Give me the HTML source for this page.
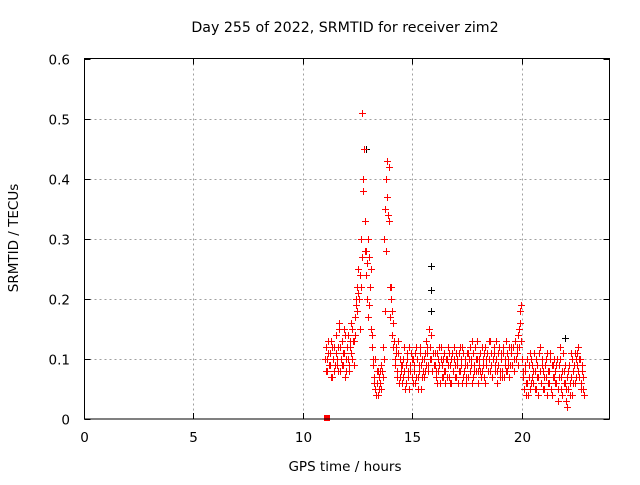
<!DOCTYPE html>
<html><head><meta charset="utf-8"><style>
body{margin:0;background:#fff}
svg text{font-family:"DejaVu Sans","Liberation Sans",sans-serif;font-size:13.5px;fill:#000}
</style></head><body>
<svg id="chart" width="640" height="480" xmlns="http://www.w3.org/2000/svg">
<text x="345" y="32" text-anchor="middle" style="font-size:14.2px">Day 255 of 2022, SRMTID for receiver zim2</text>
<text x="345" y="471" text-anchor="middle">GPS time / hours</text>
<text transform="translate(18,238) rotate(-90)" text-anchor="middle">SRMTID / TECUs</text>
<g id="grid"></g><g id="ticks"></g><g id="marks"></g>
<rect x="84.5" y="58.5" width="525" height="360.5" fill="none" stroke="#000" stroke-width="1"/>
</svg>
<script>
const xTicks=[0,5,10,15,20];
const yTicks=[0,0.1,0.2,0.3,0.4,0.5,0.6];
const yTickLabels=["0","0.1","0.2","0.3","0.4","0.5","0.6"];
const redStart=11.0, redStep=0.05;
const redA=[.10,.12,.08,.11,.09,.13,.07,.10,.12,.09,
.14,.10,.08,.16,.12,.09,.11,.15,.07,.10,
.12,.14,.09,.13,.11,.15,.13,.17,.19,.22,
.25,.20,.24,.30,.51,.40,.33,.28,.26,.30,
.27,.22,.15,.12,.09,.06,.05,.08,.04,.07,
.06,.09,.08,.12,.30,.35,.40,.43,.42,.22,
.20,.18,.16,.13,.10,.12,.08,.11,.07,.09,
.06,.10,.08,.05,.09,.11,.07,.12,.08,.10,
.06,.09,.11,.07,.10,.05,.08,.12,.09,.07,
.10,.08,.13,.11,.09,.15,.12,.10,.08,.11,
.09,.07,.11,.08,.12,.06,.10,.09,.07,.11,
.08,.10,.12,.07,.09,.06,.11,.08,.10,.09,
.07,.10,.08,.12,.09,.06,.11,.08,.10,.07,
.09,.11,.08,.10,.13,.07,.09,.12,.08,.10,
.06,.09,.11,.08,.10,.07,.12,.09,.11,.08,
.10,.13,.09,.07,.11,.08,.10,.06,.09,.12,
.08,.10,.07,.11,.09,.13,.08,.10,.12,.09,
.11,.09,.12,.10,.13,.11,.14,.12,.16,.19,
.10,.07,.05,.08,.04,.06,.09,.05,.10,.07,
.06,.11,.08,.05,.09,.07,.12,.06,.10,.08,
.05,.09,.07,.11,.06,.08,.10,.04,.09,.07,
.08,.06,.10,.05,.09,.12,.07,.04,.08,.06,
.03,.07,.05,.09,.06,.11,.04,.08,.06,.10,
.09,.12,.07,.10,.06,.08,.05];
const redBStart=11.025;
const redB=[.08,.10,.13,.09,.11,.07,.12,.10,.08,.11,
.09,.12,.15,.08,.10,.13,.09,.11,.14,.08,
.10,.08,.12,.16,.10,.13,.09,.14,.20,.18,
.21,.15,.22,.27,.38,.45,.28,.24,.20,.17,
.19,.25,.14,.10,.07,.10,.04,.06,.08,.05,
.08,.05,.07,.10,.18,.28,.37,.34,.33,.17,
.22,.14,.12,.09,.11,.07,.13,.06,.10,.08,
.09,.07,.12,.06,.10,.08,.05,.09,.11,.07,
.10,.08,.06,.12,.07,.09,.11,.05,.10,.08,
.07,.11,.09,.12,.08,.10,.14,.08,.11,.09,
.11,.08,.06,.10,.09,.12,.07,.10,.08,.06,
.10,.07,.09,.11,.06,.10,.08,.12,.07,.11,
.09,.06,.11,.08,.10,.12,.07,.09,.06,.11,
.07,.10,.12,.09,.06,.11,.08,.10,.13,.08,
.10,.08,.07,.12,.09,.11,.06,.10,.08,.13,
.08,.11,.07,.10,.12,.09,.13,.08,.11,.07,
.11,.08,.12,.07,.10,.08,.11,.09,.07,.12,
.09,.12,.08,.13,.10,.12,.09,.15,.18,.13,
.08,.05,.09,.06,.10,.04,.07,.11,.06,.09,
.08,.05,.10,.07,.04,.11,.08,.06,.09,.05,
.07,.10,.04,.08,.06,.11,.05,.09,.07,.10,
.06,.09,.03,.07,.10,.05,.08,.11,.06,.09,
.05,.02,.08,.04,.07,.10,.06,.09,.11,.07,
.11,.08,.10,.05,.09,.07,.04];
const blackTimes=[12.85,15.85,15.85,15.85,21.95];
const blackValues=[.45,.255,.215,.18,.135];
const zeroTimes=[11.1];
const zeroValues=[0];

const X0=84.5,X1=609.5,Y0=419,Y1=58.5;
function xs(t){return X0+(t/24)*(X1-X0);}
function ys(v){return Y0-(v/0.6)*(Y0-Y1);}
const NS="http://www.w3.org/2000/svg";
const grid=document.getElementById('grid'),ticks=document.getElementById('ticks'),marks=document.getElementById('marks');
function mk(tag,attrs,parent){const e=document.createElementNS(NS,tag);for(const k in attrs)e.setAttribute(k,attrs[k]);parent.appendChild(e);return e;}
xTicks.forEach(t=>{
  const x=Math.round(xs(t)-0.5)+0.5;
  if(t>0){const g=mk('line',{x1:x,x2:x,y1:Y1,y2:Y0,stroke:'#a0a0a0','stroke-dasharray':'2,3'},grid);
  
  }
  const tk=mk('path',{d:`M${x},${Y0}v-6M${x},${Y1}v6`,stroke:'#000'},ticks);
  
  
  const lb=mk('text',{x:x,y:442,'text-anchor':'middle'},ticks);lb.textContent=String(t);
  
  
});
yTicks.forEach((v,i)=>{
  const y=Math.round(ys(v))+0.5;
  if(v>0&&v<0.6){const g=mk('line',{x1:X0,x2:X1,y1:y,y2:y,stroke:'#a0a0a0','stroke-dasharray':'2,3'},grid);
  
  }
  const tk=mk('path',{d:`M${X0},${y}h6M${X1},${y}h-6`,stroke:'#000'},ticks);
  
  
  const lb=mk('text',{x:70,y:y+5,'text-anchor':'end'},ticks);lb.textContent=yTickLabels[i];
  
  
});
// plus marker drawn as filled polygon (two 1px bars)
function plusD(t,v){
  const x=Math.round(xs(t)),y=Math.round(ys(v));
  return `M${x-3},${y}h7v1h-7zM${x},${y-3}h1v7h-1z`;
}
function series(times,values,color,name){
  let d='';
  values.forEach((v,i)=>{d+=plusD(times(i),v);});
  const p=mk('path',{d:d,fill:color,stroke:'none'},marks);
  return p;
}
const pb=series(i=>blackTimes[i],blackValues,'#000000');


const pa=series(i=>redStart+i*redStep,redA,'#ff0000');


const pr=series(i=>redBStart+i*redStep,redB,'#ff0000');


zeroTimes.forEach((t,i)=>{
  const r=mk('rect',{x:Math.round(xs(t))-3,y:Math.round(ys(zeroValues[i]))-4,width:6,height:6,fill:'#ff0000'},marks);
  
  
});
</script>
</body></html>
